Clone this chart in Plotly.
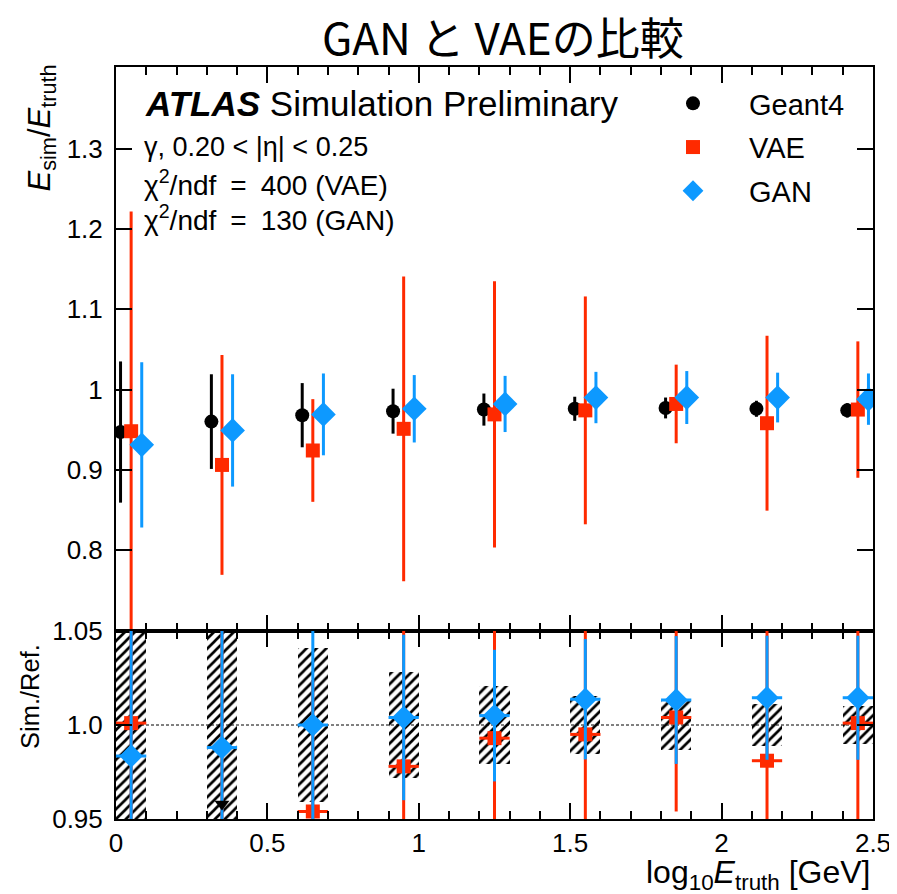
import plotly.graph_objects as go
from plotly.subplots import make_subplots

# ---------------- data ----------------
bin_centers = [0.05, 0.35, 0.65, 0.95, 1.25, 1.55, 1.85, 2.15, 2.45]
bin_half_width = 0.05
offset_geant4 = -0.035
offset_vae = 0.0
offset_gan = 0.035

geant4_y = [0.947, 0.960, 0.968, 0.973, 0.975, 0.976, 0.977, 0.976, 0.974]
geant4_err = [0.088, 0.059, 0.040, 0.028, 0.020, 0.015, 0.013, 0.010, 0.009]

vae_y = [0.948, 0.906, 0.924, 0.951, 0.969, 0.974, 0.982, 0.958, 0.975]
vae_err = [0.274, 0.137, 0.064, 0.190, 0.166, 0.142, 0.049, 0.109, 0.085]

gan_y = [0.931, 0.949, 0.969, 0.976, 0.982, 0.990, 0.990, 0.990, 0.988]
gan_err = [0.103, 0.070, 0.051, 0.042, 0.035, 0.032, 0.033, 0.031, 0.032]

# ratio panel (Sim./Ref.)
geant4_rel_err = [0.093, 0.061, 0.041, 0.028, 0.021, 0.0155, 0.0133, 0.011, 0.010]
vae_ratio = [1.001, 0.944, 0.954, 0.978, 0.993, 0.995, 1.004, 0.981, 1.001]
vae_ratio_err = [0.29, 0.15, 0.07, 0.195, 0.17, 0.145, 0.050, 0.11, 0.087]
gan_ratio = [0.9835, 0.988, 1.000, 1.004, 1.005, 1.0137, 1.0133, 1.0145, 1.0145]
gan_ratio_err = [0.109, 0.073, 0.053, 0.044, 0.035, 0.032, 0.034, 0.033, 0.033]
offscale_x = [0.35]
offscale_y = [0.958]

x_ticks = [0, 0.5, 1, 1.5, 2, 2.5]
x_ticktext = ["0", "0.5", "1", "1.5", "2", "2.5"]
y_top_ticks = [0.8, 0.9, 1.0, 1.1, 1.2, 1.3]
y_top_ticktext = ["0.8", "0.9", "1", "1.1", "1.2", "1.3"]
y_bot_ticks = [0.95, 1.0, 1.05]
y_bot_ticktext = ["0.95", "1.0", "1.05"]

BLACK = "#000000"
RED = "#ff2a00"
BLUE = "#0d99ff"
FONT = "Liberation Sans"
SP = "\u2002"

fig = make_subplots(rows=2, cols=1, shared_xaxes=True, vertical_spacing=0,
                    row_heights=[0.75, 0.25])

def shifted(off):
    return [c + off for c in bin_centers]

# ---------------- upper panel ----------------
fig.add_trace(go.Scatter(
    x=shifted(offset_geant4), y=geant4_y, mode="markers", name="Geant4",
    legendgroup="g4",
    marker=dict(symbol="circle", size=14, color=BLACK),
    error_y=dict(type="data", array=geant4_err, color=BLACK, thickness=3, width=0),
), row=1, col=1)
fig.add_trace(go.Scatter(
    x=shifted(offset_vae), y=vae_y, mode="markers", name="VAE",
    legendgroup="vae",
    marker=dict(symbol="square", size=14, color=RED),
    error_y=dict(type="data", array=vae_err, color=RED, thickness=3, width=0),
), row=1, col=1)
fig.add_trace(go.Scatter(
    x=shifted(offset_gan), y=gan_y, mode="markers", name="GAN",
    legendgroup="gan",
    marker=dict(symbol="diamond", size=19, color=BLUE),
    error_y=dict(type="data", array=gan_err, color=BLUE, thickness=3, width=0),
), row=1, col=1)

# ---------------- lower panel ----------------
fig.add_trace(go.Bar(
    x=bin_centers,
    base=[1 - e for e in geant4_rel_err],
    y=[2 * e for e in geant4_rel_err],
    width=2 * bin_half_width,
    showlegend=False, hoverinfo="skip",
    marker=dict(color="rgba(0,0,0,0)", line=dict(width=0),
                pattern=dict(shape="/", fgcolor=BLACK, bgcolor="rgba(0,0,0,0)",
                             size=7, solidity=0.38, fillmode="replace")),
), row=2, col=1)
fig.add_trace(go.Scatter(
    x=bin_centers, y=vae_ratio, mode="markers", showlegend=False,
    marker=dict(symbol="square", size=14, color=RED),
    error_y=dict(type="data", array=vae_ratio_err, color=RED, thickness=3, width=0),
    error_x=dict(type="constant", value=bin_half_width, color=RED, thickness=3, width=0),
), row=2, col=1)
fig.add_trace(go.Scatter(
    x=bin_centers, y=gan_ratio, mode="markers", showlegend=False,
    marker=dict(symbol="diamond", size=18, color=BLUE),
    error_y=dict(type="data", array=gan_ratio_err, color=BLUE, thickness=3, width=0),
    error_x=dict(type="constant", value=bin_half_width, color=BLUE, thickness=3, width=0),
), row=2, col=1)
fig.add_trace(go.Scatter(
    x=offscale_x, y=offscale_y, mode="markers", showlegend=False,
    marker=dict(symbol="triangle-down", size=13, color=BLACK),
), row=2, col=1)

fig.add_shape(type="line", xref="x2", yref="y2", x0=0, x1=2.5, y0=1, y1=1,
              line=dict(color=BLACK, width=1, dash="3px,2px"), layer="below")

# ---------------- axes ----------------
axis_common = dict(
    showline=True, linecolor=BLACK, linewidth=2, mirror="allticks",
    ticks="inside", tickcolor=BLACK, tickwidth=2, showgrid=False, zeroline=False,
    tickfont=dict(family=FONT, size=26, color=BLACK),
)
fig.update_xaxes(range=[0, 2.5], tickvals=x_ticks, ticktext=x_ticktext, ticklen=16,
                 minor=dict(ticks="inside", dtick=0.1, ticklen=8, tickwidth=2,
                            tickcolor=BLACK, showgrid=False),
                 **axis_common)
fig.update_xaxes(showticklabels=False, row=1, col=1)
fig.update_yaxes(range=[0.699, 1.402], tickvals=y_top_ticks, ticktext=y_top_ticktext,
                 ticklen=16, ticklabelstandoff=6, row=1, col=1, **axis_common)
fig.update_yaxes(range=[0.95, 1.05], tickvals=y_bot_ticks, ticktext=y_bot_ticktext,
                 ticklen=16, ticklabelstandoff=6, row=2, col=1, **axis_common)
fig.update_layout(yaxis=dict(domain=[0.25, 1.0]), yaxis2=dict(domain=[0.0, 0.25]))

# ---------------- annotations ----------------
W0, W1, H0, H1 = 116, 873, 67, 819
def px(xp):
    return (xp - W0) / (W1 - W0)
def py(yp):
    return (H1 - yp) / (H1 - H0)

ann = []
ann.append(dict(text="GAN と VAEの比較", x=px(503), y=py(36),
                xanchor="center", yanchor="middle", borderpad=0,
                font=dict(family="Noto Sans CJK JP", size=44, color=BLACK)))
ann.append(dict(text="<b><i>ATLAS</i></b> Simulation Preliminary", x=px(143), y=py(104),
                xanchor="left", yanchor="middle", font=dict(family=FONT, size=35, color=BLACK)))
ann.append(dict(text="γ, 0.20 < |η| < 0.25", x=px(142), y=py(147),
                xanchor="left", yanchor="middle", font=dict(family=FONT, size=27, color=BLACK)))
ann.append(dict(text=f"χ<sup>2</sup>/ndf{SP}={SP}400 (VAE)", x=px(142), y=py(183),
                xanchor="left", yanchor="middle", font=dict(family=FONT, size=28, color=BLACK)))
ann.append(dict(text=f"χ<sup>2</sup>/ndf{SP}={SP}130 (GAN)", x=px(142), y=py(218),
                xanchor="left", yanchor="middle", font=dict(family=FONT, size=28, color=BLACK)))
ann.append(dict(text="<i>E</i><sub>sim</sub>/<i>E</i><sub>truth</sub>", x=px(41), y=py(63),
                textangle=-90, xanchor="center", yanchor="top",
                font=dict(family=FONT, size=31, color=BLACK)))
ann.append(dict(text="Sim./Ref.", x=px(30), y=py(697),
                textangle=-90, xanchor="center", yanchor="middle",
                font=dict(family=FONT, size=25.5, color=BLACK)))
ann.append(dict(text="log<sub>10</sub><i>E</i><sub>truth</sub> [GeV]", x=px(871), y=py(874),
                xanchor="right", yanchor="middle", borderpad=0,
                font=dict(family=FONT, size=32, color=BLACK)))
for a in ann:
    a.update(xref="paper", yref="paper", showarrow=False)

# the page body adds an 8px offset; compensate in margins
OFF = 8
fig.update_layout(
    width=897, height=894,
    margin=dict(l=W0 - OFF, r=897 - W1 + OFF, t=H0 - OFF, b=894 - H1 + OFF),
    paper_bgcolor="white", plot_bgcolor="white",
    annotations=ann,
    showlegend=True,
    legend=dict(x=px(637), y=py(78), xanchor="left", yanchor="top",
                font=dict(family=FONT, size=29, color=BLACK),
                bgcolor="rgba(0,0,0,0)", tracegroupgap=3, itemwidth=102),
    bargap=0,
)

fig.write_html("out.html")
